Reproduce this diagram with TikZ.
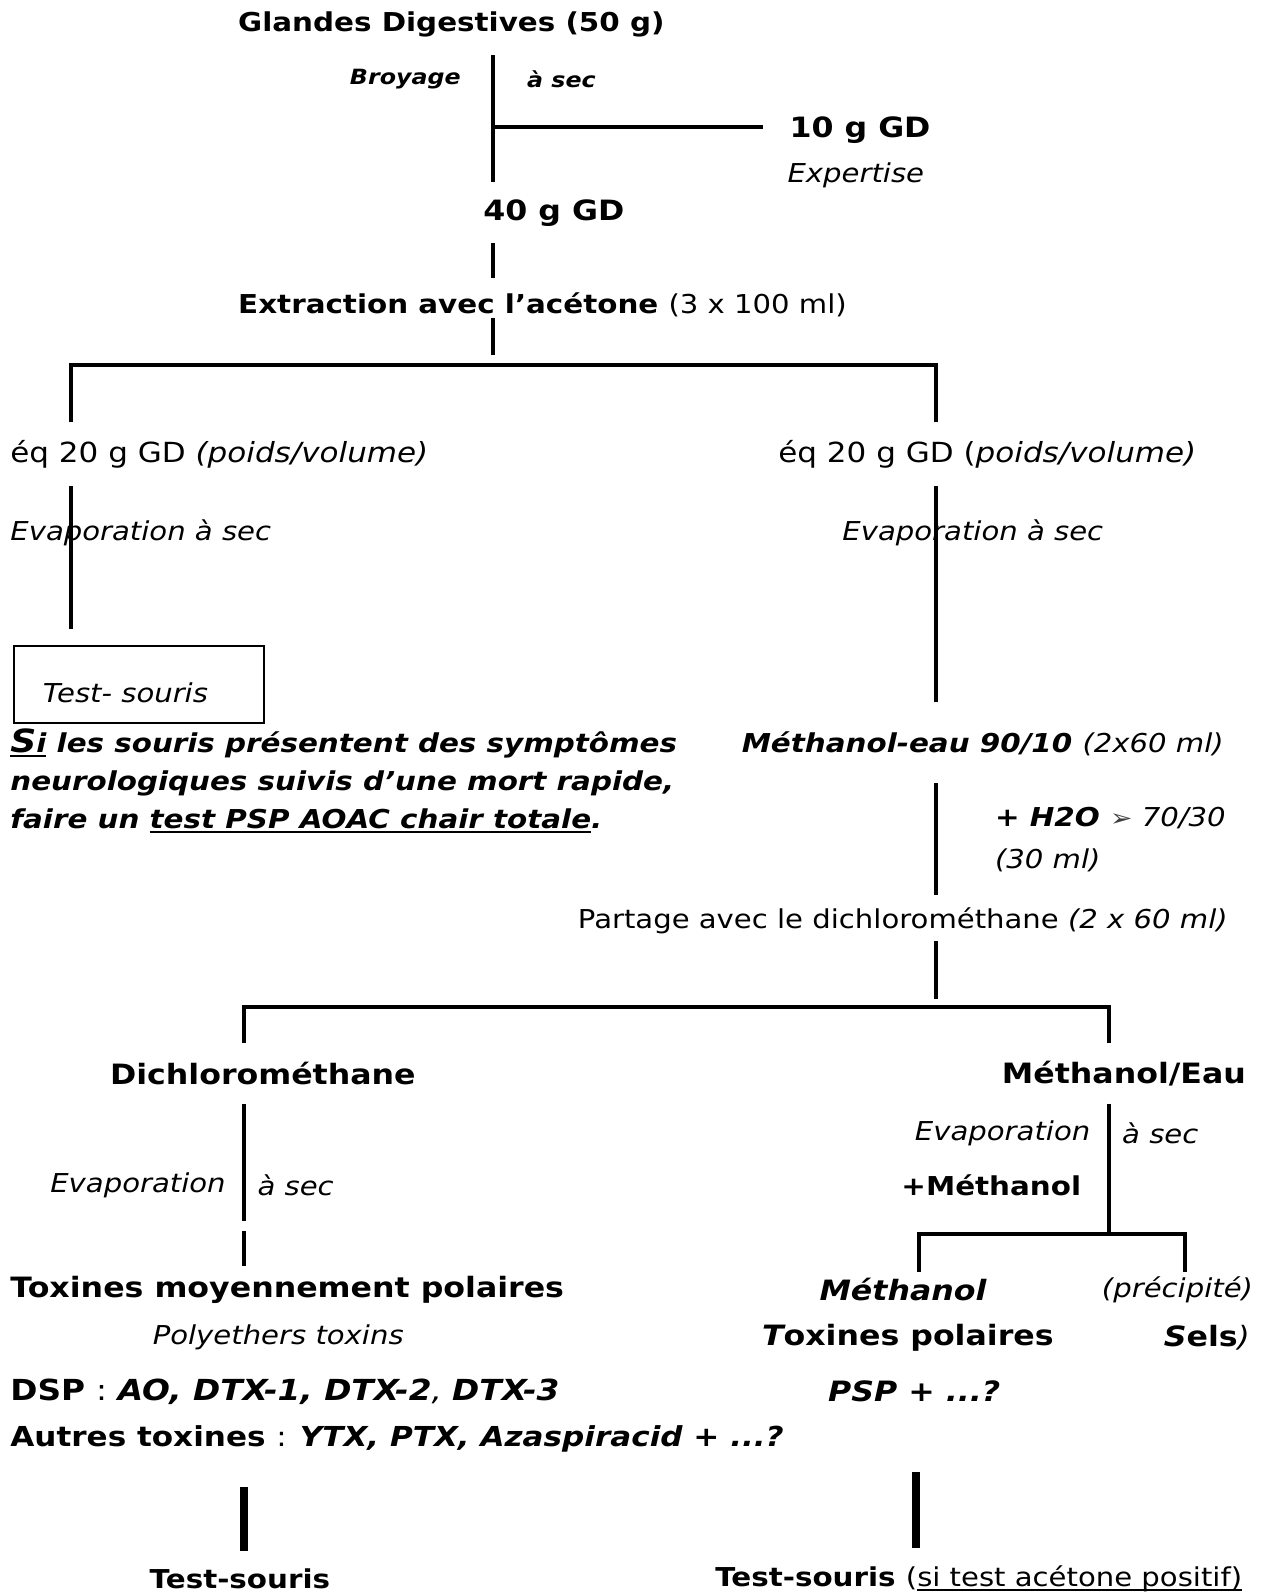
\documentclass[tikz,border=0pt]{standalone}
\usepackage{fontspec}
\setmainfont{DejaVu Sans}[
  BoldFont={DejaVu Sans Bold},
  ItalicFont={DejaVu Sans Oblique},
  BoldItalicFont={DejaVu Sans Bold Oblique},
  UprightFeatures={FakeStretch=1.12},
  ItalicFeatures={FakeStretch=1.12},
  BoldFeatures={FakeStretch=1.13},
  BoldItalicFeatures={FakeStretch=1.13}]
\newcommand\ulx[1]{\setbox0\hbox{#1}\rlap{\rule[-4.5pt]{\wd0}{2.2pt}}\box0\relax}
\tikzset{
  txt/.style={inner sep=0pt, font=\fontsize{26}{31}\selectfont},
  bigtxt/.style={inner sep=0pt, font=\fontsize{28}{33}\selectfont},
  smtxt/.style={inner sep=0pt, font=\fontsize{21}{25}\selectfont},
  ln/.style={line width=4pt},
  thickln/.style={line width=8pt},
}
\begin{document}
\begin{tikzpicture}[x=1.0176pt,y=-1.0176pt]
\useasboundingbox (0,0) rectangle (1249,1568);

% ---- top part
\node[txt,anchor=west] (glandes) at (234,24) {\bfseries Glandes Digestives (50 g)};
\node[smtxt,anchor=east] (broyage) at (453,78) {\bfseries\itshape Broyage};
\node[smtxt,anchor=west] (asec1) at (518,78) {\bfseries\itshape à sec};
\node[bigtxt,anchor=west] (gd10) at (776,128) {\bfseries 10 g GD};
\node[txt,anchor=west] (expertise) at (774,172) {\itshape Expertise};
\node[bigtxt,anchor=west] (gd40) at (475,210) {\bfseries 40 g GD};
\node[txt,anchor=west] (extraction) at (234,300) {\bfseries Extraction avec l’acétone \mdseries(3 x 100 ml)};

\coordinate (a1) at (485,54);
\coordinate (a2) at (485,179);
\coordinate (a3) at (485,125);
\coordinate (a4) at (750,125);
\draw[ln] (a1) -- (a2);
\draw[ln] (a3) -- (a4);
\draw[ln] (485,239) coordinate (b1) -- (485,273) coordinate (b2);
\draw[ln] (485,313) coordinate (c1) -- (485,349) coordinate (c2);
\coordinate (s1) at (70,415);
\coordinate (s2) at (70,359);
\coordinate (s3) at (920,359);
\coordinate (s4) at (920,415);
\draw[ln] (s1) -- (s2) -- (s3) -- (s4);

% ---- level 2
\node[inner sep=0pt,font=\fontsize{27.7}{32}\selectfont,anchor=west] (eqL) at (10,447) {éq 20 g GD \itshape(poids/volume)};
\node[inner sep=0pt,font=\fontsize{27.7}{32}\selectfont,anchor=west] (eqR) at (765,447) {éq 20 g GD (\itshape poids/volume)};
\draw[ln] (70,478) coordinate (d1) -- (70,618) coordinate (d2);
\draw[ln] (920,478) coordinate (e1) -- (920,690) coordinate (e2);
\node[txt,anchor=west] (evapL) at (10,524) {\itshape Evaporation à sec};
\node[txt,anchor=west] (evapR) at (828,524) {\itshape Evaporation à sec};

\node[draw,line width=2pt,inner sep=0pt,minimum width=250pt,minimum height=77pt,anchor=north west] (box) at (13,634) {};
\node[txt,anchor=west] (testbox) at (42,681) {\itshape Test- souris};

\node[txt,anchor=west] (si1) at (10,731) {\bfseries\itshape \ulx{{\fontsize{32}{34}\selectfont S}i} les souris présentent des symptômes};
\node[txt,anchor=west] (si2) at (10,770) {\bfseries\itshape neurologiques suivis d’une mort rapide,};
\node[txt,anchor=west] (si3) at (10,807) {\bfseries\itshape faire un \ulx{test PSP AOAC chair totale}.};

\node[txt,anchor=west] (meth9010) at (729,731) {\bfseries\itshape Méthanol-eau 90/10 \mdseries(2x60 ml)};
\draw[ln] (920,770) coordinate (f1) -- (920,880) coordinate (f2);
\node[txt,anchor=west] (h2o) at (978,804) {\bfseries\itshape + H2O \mdseries\upshape{\color{black!75}\fontsize{24}{28}\selectfont ➢} \itshape 70/30};
\node[txt,anchor=west] (ml30) at (978,846) {\itshape (30 ml)};
\node[txt,anchor=west] (partage) at (568,905) {Partage avec le dichlorométhane \itshape(2 x 60 ml)};
\draw[ln] (920,925) coordinate (g1) -- (920,982) coordinate (g2);

\coordinate (h1) at (240,1025);
\coordinate (h2) at (240,990);
\coordinate (h3) at (1090,990);
\coordinate (h4) at (1090,1025);
\draw[ln] (h1) -- (h2) -- (h3) -- (h4);

% ---- level 3
\node[bigtxt,anchor=west] (dichloro) at (108,1055) {\bfseries Dichlorométhane};
\node[bigtxt,anchor=east] (methEau) at (1225,1055) {\bfseries Méthanol/Eau};

\draw[ln] (240,1085) coordinate (i1) -- (240,1200) coordinate (i2);
\draw[ln] (240,1210) coordinate (i3) -- (240,1245) coordinate (i4);
\node[txt,anchor=east] (evapD) at (222,1165) {\itshape Evaporation};
\node[txt,anchor=west] (asecD) at (253,1165) {\itshape à sec};

\draw[ln] (1090,1085) coordinate (j1) -- (1090,1213) coordinate (j2);
\node[txt,anchor=east] (evapM) at (1072,1114) {\itshape Evaporation};
\node[txt,anchor=west] (asecM) at (1103,1114) {\itshape à sec};
\node[txt,anchor=east] (plusMeth) at (1063,1165) {\bfseries +Méthanol};
\coordinate (k1) at (903,1250);
\coordinate (k2) at (903,1213);
\coordinate (k3) at (1165,1213);
\coordinate (k4) at (1165,1250);
\draw[ln] (k1) -- (k2) -- (k3) -- (k4);

% ---- results
\node[bigtxt,anchor=west] (toxMoy) at (10,1268) {\bfseries Toxines moyennement polaires};
\node[txt,anchor=west] (polyeth) at (150,1315) {\itshape Polyethers toxins};
\node[inner sep=0pt,font=\fontsize{29}{34}\selectfont,anchor=west] (dsp) at (10,1368) {\bfseries DSP \mdseries: \bfseries\itshape AO, DTX-1, DTX-2\mdseries, \bfseries DTX-3};
\node[inner sep=0pt,font=\fontsize{27.5}{32}\selectfont,anchor=west] (autres) at (10,1415) {\bfseries Autres toxines \mdseries: \bfseries\itshape YTX, PTX, Azaspiracid + ...?};

\node[bigtxt,anchor=east] (methanol) at (970,1268) {\bfseries\itshape Méthanol};
\node[txt,anchor=east] (precip) at (1232,1268) {\itshape (précipité)};
\node[bigtxt,anchor=east] (toxPol) at (1036,1315) {\bfseries{\itshape T}oxines polaires};
\node[bigtxt,anchor=east] (sels) at (1229,1315) {\bfseries{\itshape S}els\mdseries\itshape)};
\node[bigtxt,anchor=west] (psp) at (814,1368) {\bfseries\itshape PSP + ...?};

\draw[thickln] (240,1462) coordinate (l1) -- (240,1525) coordinate (l2);
\draw[thickln] (900,1447) coordinate (m1) -- (900,1522) coordinate (m2);

\node[txt,anchor=west] (testL) at (147,1552) {\bfseries Test-souris};
\node[txt,anchor=west] (testR) at (703,1552) {\bfseries Test-souris \mdseries(\ulx{si test acétone positif)}};
\end{tikzpicture}
\end{document}
